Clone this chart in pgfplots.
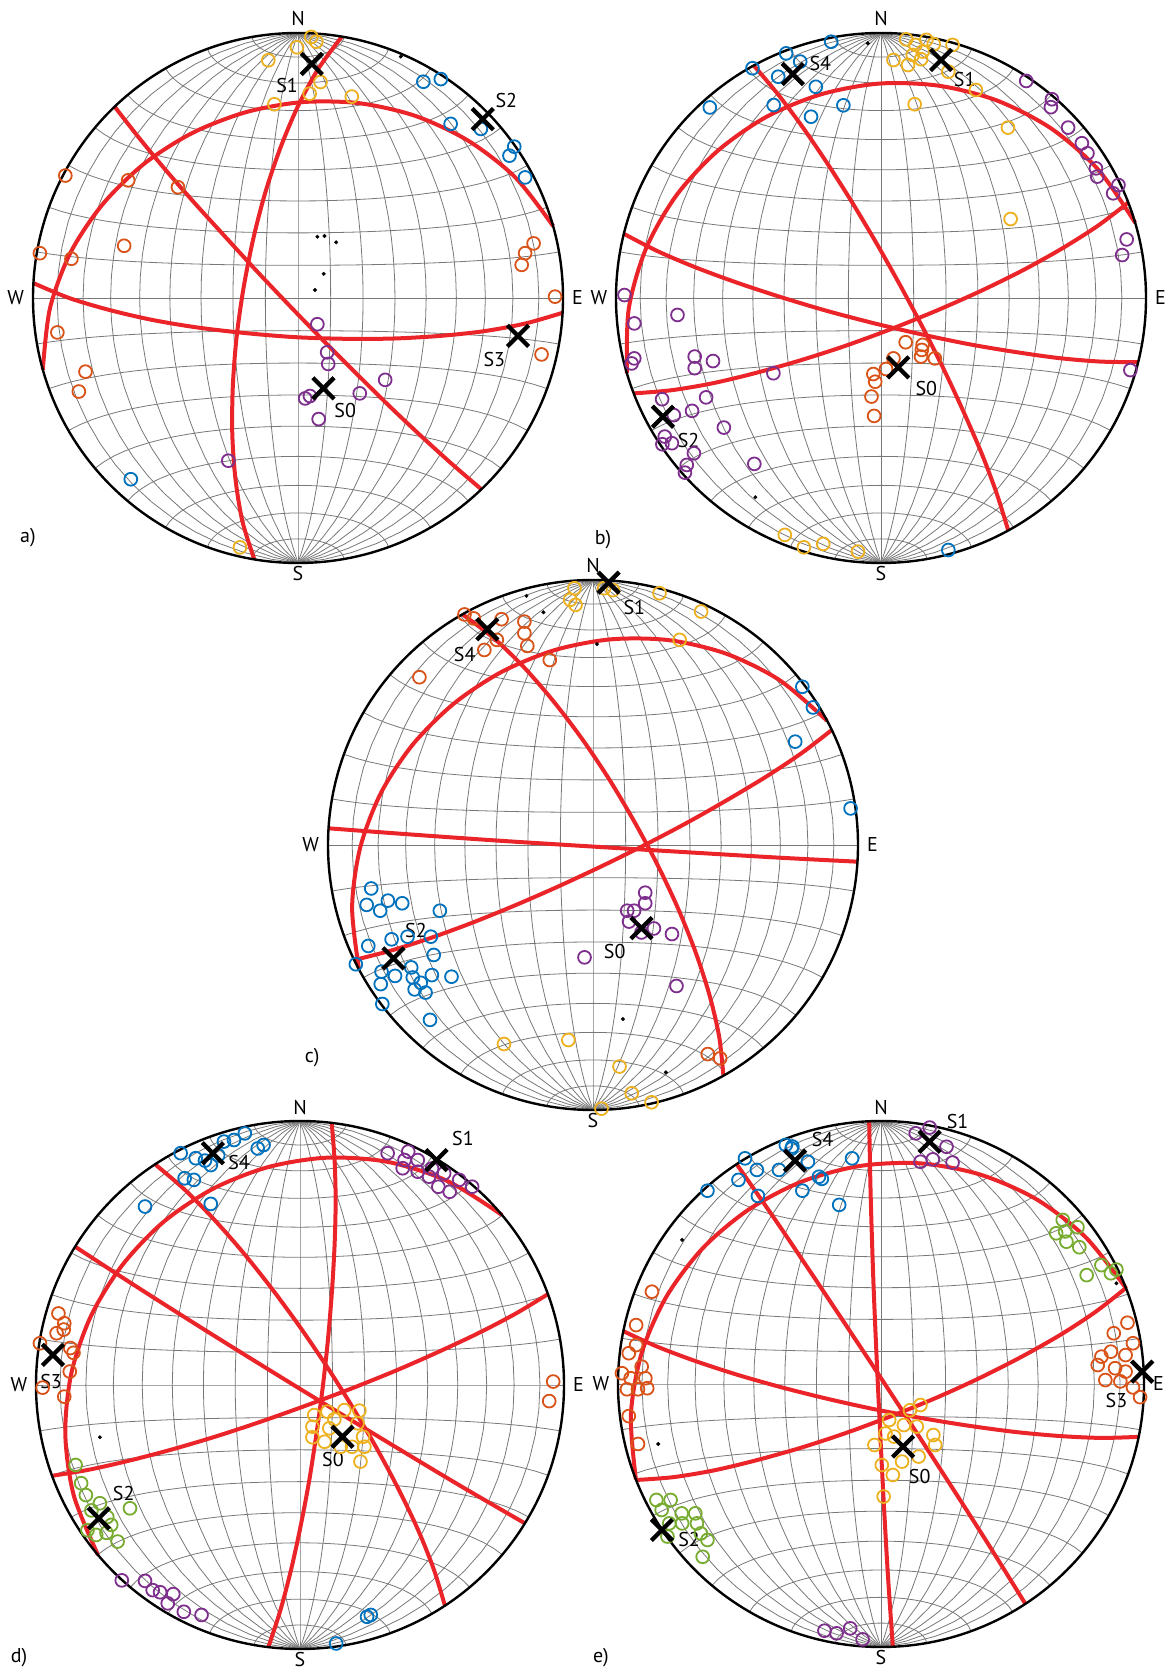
\documentclass[border=0pt]{standalone}
\usepackage{fontspec}
\setmainfont{PT Sans}
\usepackage{pgfplots}
\pgfplotsset{compat=1.18}
\definecolor{mblue}{RGB}{0,114,189}
\definecolor{morange}{RGB}{217,83,25}
\definecolor{myellow}{RGB}{237,177,32}
\definecolor{mpurple}{RGB}{126,47,142}
\definecolor{mgreen}{RGB}{119,172,48}
\definecolor{gcred}{RGB}{234,36,40}
\definecolor{netgray}{RGB}{120,120,120}
\newcommand{\lbl}{\fontsize{20pt}{24pt}\selectfont}
\pgfplotsset{
  stereo/.style={scale only axis, xmin=-1, xmax=1, ymin=-1, ymax=1, hide axis, clip=false, anchor=center},
  net/.style={draw=netgray, line width=0.8pt, no marks, forget plot},
  gc/.style={draw=gcred, line width=4pt, smooth, no marks},
  pol/.style={only marks, mark=o, color=#1, mark size=6.4pt, line width=1.8pt},
  xm/.style={only marks, mark=x, color=black, mark size=15pt, line width=4.3pt},
  dot/.style={only marks, mark=*, color=black, mark size=1.8pt},
}
\newcommand{\stereonet}{%
  \pgfplotsinvokeforeach{-80,-70,-60,-50,-40,-30,-20,-10,0,10,20,30,40,50,60,70,80}{%
    \addplot[net, domain=-90:90, samples=31] ({cos(x)*sin(##1)/sqrt(1+cos(x)*cos(##1))},{sin(x)/sqrt(1+cos(x)*cos(##1))});
    \addplot[net, domain=-90:90, samples=31] ({cos(##1)*sin(x)/sqrt(1+cos(##1)*cos(x))},{sin(##1)/sqrt(1+cos(##1)*cos(x))});
  }%
}
\newcommand{\primcircle}{\draw[line width=2.4pt, black] (axis cs:0,0) circle [radius=1];}
\newcommand{\cardinal}{%
  \node[font=\lbl] at (axis cs:0,1.053) {N};
  \node[font=\lbl] at (axis cs:0,-1.04) {S};
  \node[font=\lbl] at (axis cs:-1.065,0) {W};
  \node[font=\lbl] at (axis cs:1.055,0) {E};
}
\begin{document}
\begin{tikzpicture}
\path[use as bounding box] (0,0) rectangle (1169pt,1672pt);

% ---------------- panel a ----------------
\begin{axis}[stereo, width=530pt, height=530pt, at={(298pt,1374pt)}]
\stereonet
\addplot[gc] coordinates {(-0.963,-0.271) (-0.936,-0.039) (-0.858,0.172) (-0.736,0.355) (-0.580,0.507) (-0.398,0.623) (-0.197,0.701) (0.015,0.739) (0.231,0.735) (0.443,0.687) (0.643,0.593) (0.820,0.455) (0.963,0.271)};
\addplot[gc] coordinates {(-0.165,-0.986) (-0.210,-0.842) (-0.236,-0.683) (-0.248,-0.512) (-0.246,-0.334) (-0.232,-0.150) (-0.206,0.035) (-0.170,0.218) (-0.124,0.396) (-0.067,0.565) (-0.001,0.722) (0.076,0.864) (0.165,0.986)};
\addplot[gc] coordinates {(0.692,-0.722) (0.586,-0.631) (0.472,-0.528) (0.351,-0.414) (0.226,-0.291) (0.097,-0.162) (-0.031,-0.030) (-0.158,0.104) (-0.281,0.238) (-0.399,0.368) (-0.508,0.493) (-0.606,0.612) (-0.692,0.722)};
\addplot[gc] coordinates {(0.998,-0.056) (0.859,-0.096) (0.704,-0.125) (0.537,-0.143) (0.360,-0.153) (0.177,-0.154) (-0.008,-0.148) (-0.193,-0.133) (-0.375,-0.112) (-0.549,-0.083) (-0.713,-0.045) (-0.864,0.000) (-0.998,0.056)};
\primcircle
\addplot[pol=myellow] coordinates {(0.05,0.985) (0.069,0.967) (-0.004,0.946) (-0.112,0.897) (0.085,0.815) (0.044,0.771) (-0.089,0.731) (0.203,0.760) (-0.219,-0.941)};
\addplot[pol=mblue] coordinates {(0.473,0.816) (0.539,0.826) (0.576,0.657) (0.690,0.638) (0.816,0.571) (0.798,0.537) (0.857,0.455) (-0.631,-0.684)};
\addplot[pol=morange] coordinates {(-0.878,0.462) (-0.641,0.444) (-0.453,0.418) (-0.656,0.197) (-0.974,0.169) (-0.855,0.148) (0.889,0.206) (0.857,0.169) (0.844,0.125) (0.970,0.005) (-0.908,-0.130) (-0.802,-0.278) (-0.827,-0.353) (0.919,-0.213)};
\addplot[pol=mpurple] coordinates {(0.073,-0.099) (0.110,-0.205) (0.114,-0.249) (0.027,-0.379) (0.045,-0.370) (0.233,-0.360) (0.329,-0.309) (0.078,-0.457) (-0.263,-0.614)};
\addplot[dot] coordinates {(0.073,0.231) (0.100,0.234) (0.144,0.210) (0.097,0.091) (0.064,0.030) (0.388,0.911)};
\addplot[xm] coordinates {(0.052,0.883) (0.697,0.675) (0.096,-0.341) (0.830,-0.143)};
\node[font=\lbl] at (axis cs:-0.041,0.80) {S1};
\node[font=\lbl] at (axis cs:0.786,0.747) {S2};
\node[font=\lbl] at (axis cs:0.178,-0.423) {S0};
\node[font=\lbl] at (axis cs:0.741,-0.234) {S3};
\cardinal
\node[font=\lbl] at (axis cs:-1.019,-0.906) {a)};
\end{axis}

% ---------------- panel b ----------------
\begin{axis}[stereo, width=530pt, height=530pt, at={(881pt,1374pt)}]
\stereonet
\addplot[gc] coordinates {(-0.959,-0.284) (-0.952,-0.041) (-0.887,0.186) (-0.773,0.386) (-0.619,0.553) (-0.435,0.682) (-0.228,0.768) (-0.007,0.809) (0.218,0.801) (0.438,0.745) (0.643,0.639) (0.820,0.484) (0.959,0.284)};
\addplot[gc] coordinates {(-0.480,0.877) (-0.389,0.769) (-0.296,0.645) (-0.202,0.507) (-0.108,0.359) (-0.015,0.203) (0.076,0.041) (0.163,-0.122) (0.244,-0.284) (0.318,-0.444) (0.384,-0.597) (0.438,-0.742) (0.480,-0.877)};
\addplot[gc] coordinates {(0.970,-0.242) (0.828,-0.240) (0.673,-0.227) (0.508,-0.204) (0.335,-0.175) (0.156,-0.138) (-0.024,-0.096) (-0.203,-0.049) (-0.377,0.003) (-0.544,0.058) (-0.701,0.116) (-0.844,0.177) (-0.970,0.242)};
\addplot[gc] coordinates {(0.933,0.360) (0.819,0.273) (0.687,0.189) (0.540,0.107) (0.382,0.029) (0.216,-0.045) (0.044,-0.115) (-0.130,-0.179) (-0.303,-0.235) (-0.473,-0.283) (-0.636,-0.322) (-0.790,-0.348) (-0.933,-0.360)};
\primcircle
\addplot[pol=mblue] coordinates {(-0.188,0.967) (-0.358,0.923) (-0.305,0.892) (-0.485,0.867) (-0.388,0.835) (-0.246,0.797) (-0.646,0.719) (-0.405,0.728) (-0.142,0.727) (-0.264,0.684) (0.254,-0.951)};
\addplot[pol=myellow] coordinates {(0.095,0.976) (0.130,0.955) (0.171,0.974) (0.199,0.958) (0.27,0.955) (0.157,0.930) (0.120,0.917) (0.047,0.898) (0.102,0.879) (0.151,0.901) (0.254,0.854) (0.358,0.785) (0.127,0.731) (0.479,0.643) (0.489,0.298) (-0.363,-0.894) (-0.291,-0.941) (-0.218,-0.928) (-0.087,-0.957)};
\addplot[pol=mpurple] coordinates {(0.548,0.819) (0.645,0.750) (0.641,0.720) (0.706,0.643) (0.758,0.584) (0.779,0.546) (0.811,0.489) (0.816,0.458) (0.896,0.426) (0.876,0.395) (0.927,0.221) (0.910,0.162) (-0.968,0.011) (-0.768,-0.064) (-0.931,-0.096) (-0.931,-0.228) (-0.941,-0.247) (-0.703,-0.221) (-0.634,-0.238) (-0.703,-0.265) (-0.406,-0.284) (-0.826,-0.382) (-0.713,-0.426) (-0.660,-0.375) (-0.593,-0.489) (-0.782,-0.442) (-0.816,-0.523) (-0.789,-0.548) (-0.825,-0.552) (-0.706,-0.586) (-0.733,-0.630) (-0.740,-0.659) (-0.478,-0.626) (0.941,-0.272)};
\addplot[pol=morange] coordinates {(0.093,-0.167) (0.157,-0.177) (0.154,-0.196) (0.151,-0.221) (0.203,-0.228) (0.047,-0.228) (0.019,-0.268) (-0.029,-0.287) (-0.022,-0.316) (-0.036,-0.372) (-0.026,-0.445)};
\addplot[dot] coordinates {(-0.050,0.961) (-0.474,-0.752)};
\addplot[xm] coordinates {(-0.333,0.845) (0.227,0.898) (-0.823,-0.448) (0.065,-0.262)};
\node[font=\lbl] at (axis cs:-0.229,0.886) {S4};
\node[font=\lbl] at (axis cs:0.316,0.823) {S1};
\node[font=\lbl] at (axis cs:-0.726,-0.536) {S2};
\node[font=\lbl] at (axis cs:0.171,-0.341) {S0};
\cardinal
\node[font=\lbl] at (axis cs:-1.049,-0.913) {b)};
\end{axis}

% ---------------- panel c ----------------
\begin{axis}[stereo, width=530pt, height=530pt, at={(593pt,827pt)}]
\stereonet
\addplot[gc] coordinates {(-0.883,-0.469) (-0.909,-0.236) (-0.879,-0.012) (-0.801,0.195) (-0.681,0.378) (-0.527,0.532) (-0.347,0.652) (-0.146,0.735) (0.067,0.776) (0.286,0.773) (0.502,0.722) (0.704,0.622) (0.883,0.469)};
\addplot[gc] coordinates {(-0.492,0.870) (-0.375,0.781) (-0.260,0.670) (-0.149,0.542) (-0.041,0.400) (0.061,0.248) (0.156,0.088) (0.244,-0.076) (0.322,-0.242) (0.388,-0.407) (0.440,-0.568) (0.476,-0.723) (0.492,-0.870)};
\addplot[gc] coordinates {(0.998,-0.063) (0.705,-0.048) (0.365,-0.028) (0.000,-0.006) (-0.366,0.017) (-0.706,0.041) (-0.998,0.063)};
\addplot[gc] coordinates {(0.901,0.434) (0.789,0.348) (0.660,0.262) (0.517,0.176) (0.364,0.089) (0.203,0.004) (0.037,-0.078) (-0.130,-0.156) (-0.297,-0.229) (-0.460,-0.295) (-0.616,-0.352) (-0.764,-0.399) (-0.901,-0.434)};
\primcircle
\addplot[pol=myellow] coordinates {(-0.070,0.969) (-0.086,0.925) (-0.066,0.906) (0.042,0.969) (0.075,0.962) (0.251,0.950) (0.408,0.881) (0.327,0.774) (-0.336,-0.751) (-0.093,-0.736) (0.100,-0.836) (0.146,-0.937) (0.221,-0.971) (0.032,-0.995)};
\addplot[pol=morange] coordinates {(-0.485,0.870) (-0.450,0.855) (-0.345,0.852) (-0.259,0.843) (-0.259,0.799) (-0.248,0.751) (-0.363,0.774) (-0.410,0.736) (-0.163,0.698) (-0.655,0.633) (0.433,-0.789) (0.480,-0.805)};
\addplot[pol=mblue] coordinates {(0.790,0.597) (0.830,0.519) (0.763,0.390) (0.972,0.138) (-0.837,-0.164) (-0.854,-0.226) (-0.774,-0.210) (-0.720,-0.220) (-0.803,-0.248) (-0.578,-0.248) (-0.760,-0.356) (-0.848,-0.381) (-0.700,-0.346) (-0.612,-0.346) (-0.601,-0.415) (-0.895,-0.450) (-0.798,-0.478) (-0.747,-0.494) (-0.686,-0.462) (-0.608,-0.491) (-0.534,-0.497) (-0.801,-0.525) (-0.673,-0.545) (-0.632,-0.557) (-0.795,-0.600) (-0.615,-0.660) (-0.680,-0.500) (-0.650,-0.520)};
\addplot[pol=mpurple] coordinates {(0.197,-0.180) (0.197,-0.220) (0.129,-0.248) (0.155,-0.248) (0.136,-0.289) (0.230,-0.315) (0.298,-0.336) (-0.032,-0.424) (0.315,-0.532) (0.183,-0.330)};
\addplot[dot] coordinates {(-0.251,0.940) (-0.187,0.878) (0.015,0.758) (0.113,-0.657) (0.275,-0.858)};
\addplot[xm] coordinates {(0.059,0.99) (-0.399,0.814) (-0.753,-0.428) (0.183,-0.314)};
\node[font=\lbl] at (axis cs:0.156,0.897) {S1};
\node[font=\lbl] at (axis cs:-0.484,0.717) {S4};
\node[font=\lbl] at (axis cs:-0.668,-0.323) {S2};
\node[font=\lbl] at (axis cs:0.082,-0.403) {S0};
\cardinal
\node[font=\lbl] at (axis cs:-1.06,-0.804) {c)};
\end{axis}

% ---------------- panel d ----------------
\begin{axis}[stereo, width=528pt, height=528pt, at={(300pt,287pt)}]
\stereonet
\addplot[gc] coordinates {(-0.765,-0.644) (-0.857,-0.418) (-0.889,-0.184) (-0.866,0.045) (-0.792,0.261) (-0.674,0.453) (-0.519,0.616) (-0.332,0.742) (-0.122,0.825) (0.102,0.861) (0.333,0.845) (0.558,0.773) (0.765,0.644)};
\addplot[gc] coordinates {(0.852,-0.524) (0.599,-0.377) (0.306,-0.201) (-0.006,-0.011) (-0.318,0.182) (-0.606,0.364) (-0.852,0.524)};
\addplot[gc] coordinates {(-0.549,0.836) (-0.440,0.743) (-0.330,0.632) (-0.219,0.506) (-0.109,0.368) (-0.001,0.221) (0.103,0.068) (0.202,-0.089) (0.294,-0.246) (0.377,-0.402) (0.449,-0.553) (0.507,-0.699) (0.549,-0.836)};
\addplot[gc] coordinates {(0.120,0.993) (0.131,0.852) (0.135,0.697) (0.131,0.530) (0.121,0.355) (0.106,0.173) (0.086,-0.010) (0.061,-0.194) (0.033,-0.373) (0.000,-0.546) (-0.036,-0.709) (-0.076,-0.859) (-0.120,-0.993)};
\addplot[gc] coordinates {(0.939,0.344) (0.818,0.271) (0.681,0.199) (0.530,0.128) (0.369,0.057) (0.201,-0.011) (0.028,-0.076) (-0.146,-0.138) (-0.319,-0.195) (-0.488,-0.245) (-0.649,-0.287) (-0.800,-0.321) (-0.939,-0.344)};
\primcircle
\addplot[pol=mblue] coordinates {(-0.452,0.878) (-0.395,0.859) (-0.360,0.850) (-0.288,0.922) (-0.250,0.928) (-0.209,0.953) (-0.138,0.909) (-0.160,0.896) (-0.338,0.833) (-0.437,0.783) (-0.402,0.777) (-0.587,0.676) (-0.338,0.686) (-0.31,0.87) (0.254,-0.878) (0.268,-0.871) (0.137,-0.979)};
\addplot[pol=mpurple] coordinates {(0.332,0.878) (0.410,0.884) (0.396,0.852) (0.446,0.852) (0.389,0.821) (0.446,0.808) (0.489,0.789) (0.546,0.802) (0.603,0.777) (0.652,0.751) (0.524,0.751) (0.567,0.732) (0.50,0.82) (-0.675,-0.740) (-0.587,-0.742) (-0.558,-0.777) (-0.530,-0.785) (-0.480,-0.792) (-0.501,-0.827) (-0.440,-0.859) (-0.373,-0.871)};
\addplot[pol=morange] coordinates {(-0.915,0.271) (-0.893,0.234) (-0.922,0.196) (-0.895,0.210) (-0.985,0.158) (-0.87,0.14) (-0.858,0.122) (-0.872,0.051) (-0.975,-0.01) (-0.893,-0.044) (0.959,0.013) (0.944,-0.061)};
\addplot[pol=mgreen] coordinates {(-0.850,-0.303) (-0.829,-0.372) (-0.811,-0.417) (-0.758,-0.448) (-0.790,-0.475) (-0.715,-0.530) (-0.772,-0.568) (-0.805,-0.550) (-0.733,-0.560) (-0.691,-0.593) (-0.644,-0.467) (-0.730,-0.500)};
\addplot[pol=myellow] coordinates {(0.054,-0.114) (0.104,-0.101) (0.168,-0.095) (0.225,-0.097) (0.047,-0.158) (0.111,-0.164) (0.218,-0.145) (0.239,-0.196) (0.047,-0.198) (0.093,-0.215) (0.197,-0.234) (0.244,-0.234) (0.229,-0.290) (0.154,-0.234) (0.13,-0.13)};
\addplot[dot] coordinates {(-0.758,-0.198)};
\addplot[xm] coordinates {(-0.330,0.878) (0.517,0.852) (-0.936,0.114) (-0.762,-0.505) (0.161,-0.196)};
\node[font=\lbl] at (axis cs:-0.231,0.842) {S4};
\node[font=\lbl] at (axis cs:0.617,0.934) {S1};
\node[font=\lbl] at (axis cs:-0.943,0.015) {S3};
\node[font=\lbl] at (axis cs:-0.668,-0.410) {S2};
\node[font=\lbl] at (axis cs:0.125,-0.284) {S0};
\cardinal
\node[font=\lbl] at (axis cs:-1.064,-1.034) {d)};
\end{axis}

% ---------------- panel e ----------------
\begin{axis}[stereo, width=526pt, height=526pt, at={(881pt,288pt)}]
\stereonet
\addplot[gc] coordinates {(-0.932,-0.363) (-0.951,-0.117) (-0.910,0.118) (-0.816,0.332) (-0.677,0.517) (-0.502,0.664) (-0.300,0.770) (-0.080,0.829) (0.148,0.839) (0.375,0.797) (0.590,0.703) (0.779,0.557) (0.932,0.363)};
\addplot[gc] coordinates {(-0.549,0.836) (-0.382,0.595) (-0.192,0.312) (0.010,0.007) (0.210,-0.300) (0.394,-0.587) (0.549,-0.836)};
\addplot[gc] coordinates {(0.045,-0.999) (0.025,-0.707) (0.006,-0.366) (-0.012,-0.001) (-0.028,0.365) (-0.039,0.706) (-0.045,0.999)};
\addplot[gc] coordinates {(0.980,-0.201) (0.838,-0.205) (0.682,-0.198) (0.516,-0.183) (0.342,-0.160) (0.162,-0.131) (-0.020,-0.097) (-0.201,-0.057) (-0.377,-0.013) (-0.546,0.035) (-0.705,0.087) (-0.851,0.142) (-0.980,0.201)};
\addplot[gc] coordinates {(0.931,0.365) (0.818,0.276) (0.687,0.190) (0.541,0.107) (0.384,0.027) (0.218,-0.049) (0.047,-0.119) (-0.127,-0.184) (-0.300,-0.241) (-0.470,-0.289) (-0.633,-0.328) (-0.788,-0.354) (-0.931,-0.365)};
\primcircle
\addplot[pol=mblue] coordinates {(-0.517,0.858) (-0.472,0.814) (-0.362,0.909) (-0.340,0.895) (-0.388,0.814) (-0.278,0.845) (-0.236,0.788) (-0.225,0.780) (-0.110,0.858) (-0.660,0.735) (-0.542,0.776) (-0.468,0.715) (-0.299,0.735) (-0.159,0.681) (-0.337,0.903)};
\addplot[pol=mpurple] coordinates {(0.132,0.953) (0.185,0.975) (0.249,0.902) (0.150,0.845) (0.197,0.854) (0.272,0.842) (-0.215,-0.938) (-0.169,-0.948) (-0.117,-0.929) (-0.070,-0.971)};
\addplot[pol=mgreen] coordinates {(0.691,0.624) (0.747,0.596) (0.666,0.573) (0.705,0.541) (0.754,0.520) (0.782,0.414) (0.838,0.452) (0.874,0.421) (0.895,0.435) (0.700,0.580) (-0.854,-0.441) (-0.800,-0.441) (-0.834,-0.479) (-0.758,-0.492) (-0.706,-0.492) (-0.805,-0.530) (-0.756,-0.530) (-0.700,-0.530) (-0.685,-0.568) (-0.660,-0.593) (-0.812,-0.580) (-0.678,-0.657)};
\addplot[pol=morange] coordinates {(-0.871,0.351) (-0.931,0.224) (-0.931,0.148) (-0.959,0.117) (-0.910,0.066) (-0.985,0.041) (-0.952,0.022) (-0.896,0.022) (-0.966,-0.020) (-0.924,-0.020) (-0.889,-0.016) (-0.959,-0.122) (-0.924,-0.228) (0.937,0.233) (0.885,0.193) (0.958,0.155) (0.874,0.123) (0.838,0.104) (0.824,0.072) (0.853,0.015) (0.930,0.047) (0.958,-0.013) (0.985,-0.05) (0.890,0.060) (0.910,0.010) (0.930,0.11)};
\addplot[pol=myellow] coordinates {(0.150,-0.080) (0.031,-0.137) (0.087,-0.156) (0.136,-0.162) (0.017,-0.188) (0.199,-0.194) (0.206,-0.232) (-0.025,-0.232) (0.143,-0.276) (0.003,-0.308) (0.080,-0.295) (0.045,-0.346) (0.010,-0.428) (0.05,-0.20) (0.11,-0.10)};
\addplot[dot] coordinates {(-0.756,0.548) (0.895,0.383) (-0.847,-0.228)};
\addplot[xm] coordinates {(-0.327,0.849) (0.185,0.921) (-0.833,-0.555) (0.993,0.047) (0.084,-0.238)};
\node[font=\lbl] at (axis cs:-0.222,0.928) {S4};
\node[font=\lbl] at (axis cs:0.291,0.997) {S1};
\node[font=\lbl] at (axis cs:-0.730,-0.593) {S2};
\node[font=\lbl] at (axis cs:0.895,-0.061) {S3};
\node[font=\lbl] at (axis cs:0.147,-0.352) {S0};
\cardinal
\node[font=\lbl] at (axis cs:-1.065,-1.042) {e)};
\end{axis}
\end{tikzpicture}
\end{document}
